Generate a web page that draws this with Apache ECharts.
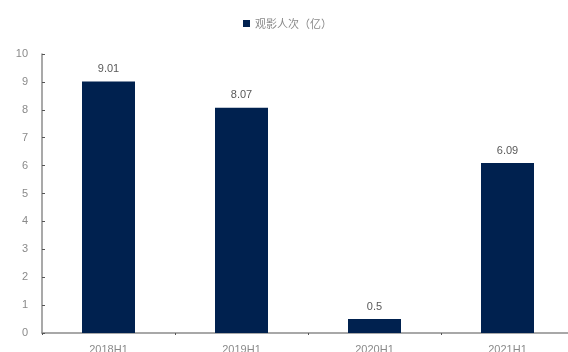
<!DOCTYPE html>
<html><head><meta charset="utf-8">
<script src="https://cdn.jsdelivr.net/npm/echarts@6/dist/echarts.min.js"></script>
<style>html,body{margin:0;padding:0;background:#fff}#c{width:568px;height:352px}</style>
</head><body><div id="c"></div>
<script>
const categories = ['2018H1','2019H1','2020H1','2021H1'];
const seriesName = '观影人次（亿）';
const values = [9.01, 8.07, 0.5, 6.09];
const yTicks = [0,1,2,3,4,5,6,7,8,9,10];

const chart = echarts.init(document.getElementById('c'));
chart.setOption({
  animation:false,
  legend:{top:13,left:238,itemWidth:7,itemHeight:7,itemGap:4,icon:'rect',
    textStyle:{fontFamily:'Noto Sans CJK SC',fontSize:11,color:'#8a8a8a'}},
  grid:{left:42,top:54,bottom:19,width:532,containLabel:false,outerBoundsMode:'none'},
  xAxis:{type:'category',data:categories,
    axisLine:{lineStyle:{color:'#8c8c8c',width:1.5}},
    axisTick:{show:true,inside:false,length:2,lineStyle:{color:'#555'}},
    axisLabel:{color:'#8a8a8a',fontSize:11,fontFamily:'Liberation Sans',margin:11}},
  yAxis:{type:'value',min:0,max:10,interval:1,
    axisLine:{show:true,lineStyle:{color:'#8c8c8c',width:1.5}},
    axisTick:{show:true,inside:true,length:3,lineStyle:{color:'#555'}},
    splitLine:{show:false},
    axisLabel:{color:'#8a8a8a',fontSize:11,fontFamily:'Liberation Sans',margin:14,
      formatter:v=>yTicks.includes(v)?String(v):''}},
  series:[{name:seriesName,type:'bar',data:values,barWidth:53,
    itemStyle:{color:'#00214f'},
    label:{show:true,position:'top',distance:7,color:'#595959',fontSize:11,fontFamily:'Liberation Sans'}}]
});
</script></body></html>
